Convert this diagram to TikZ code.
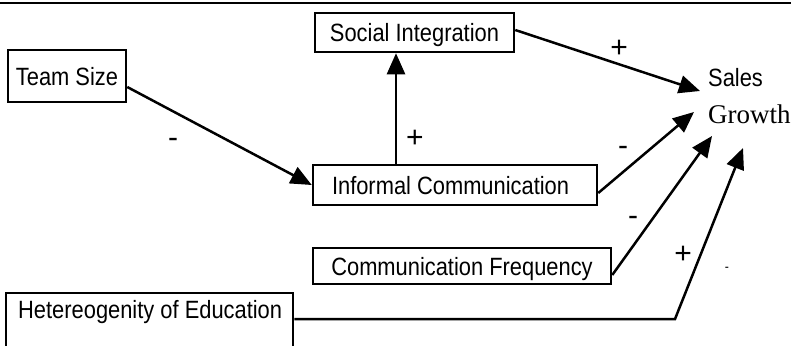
\documentclass[tikz,border=0pt]{standalone}
\usepackage{fontspec}
\usetikzlibrary{arrows.meta}
\newfontfamily\boxfont[FakeStretch=0.875]{Liberation Sans}
\newfontfamily\signfont{Liberation Sans}
\newfontfamily\growthfont{Liberation Serif}
\begin{document}
\begin{tikzpicture}[x=1pt,y=-1pt,
  box/.style={draw, line width=2.5pt, inner sep=0pt, text height=18pt, text depth=0pt,
              font=\boxfont\fontsize{25}{30}\selectfont},
  txt/.style={inner sep=0pt, font=\boxfont\fontsize{25}{30}\selectfont},
  sign/.style={inner sep=0pt, anchor=base, font=\signfont\fontsize{30}{34}\selectfont},
  smallsign/.style={inner sep=0pt, anchor=base, font=\boxfont\fontsize{14}{16}\selectfont},
  arr/.style={line width=2.5pt, -{Triangle[length=21pt,width=18pt]}}]
\useasboundingbox (0,0) rectangle (791,345);
% top rule
\draw[line width=2pt] (0,3) -- (791,3);
% boxes
\node[box, minimum width=118pt, minimum height=52pt] (team) at (67,76) {Team Size};
\node[box, minimum width=199pt, minimum height=39pt] (social) at (414.5,32.5) {Social Integration};
\node[box, minimum height=40pt, inner xsep=19pt] (informal) at (455,185) {\makebox[246pt][l]{Informal Communication}};
\node[box, minimum width=298pt, minimum height=36pt] (comm) at (462,266) {Communication Frequency};
\node[box, minimum width=287pt, minimum height=72pt] (het) at (149.5,329) {};
\node[txt, anchor=base west] (hettxt) at (18,318) {Hetereogenity of Education};
% outcome
\node[txt, anchor=base west] (sales) at (708,86) {Sales};
\node[inner sep=0pt, anchor=base west, font=\growthfont\fontsize{27}{32}\selectfont] (growth) at (708,123) {Growth};
% arrow end points
\coordinate (t1) at (700,91);
\coordinate (t2) at (694,112);
\coordinate (t3) at (712,136);
\coordinate (t4) at (743,148);
\coordinate (hc) at (675,319);
% connectors
\draw[arr] (team.east |- 0,87) -- (informal.west);
\draw[arr] (informal.north -| 396,0) -- (social.south -| 396,0);
\draw[arr] (social.east |- 0,30) -- (t1);
\draw[arr] (informal.east |- 0,193) -- (t2);
\draw[arr] (comm.east |- 0,275) -- (t3);
\draw[arr] (het.east |- 0,319) -- (hc) -- (t4);
% signs
\node[sign] (s1) at (173,147.8) {-};
\node[sign] (s2) at (415,147.5) {+};
\node[sign] (s3) at (619,57.5) {+};
\node[sign] (s4) at (623,155.8) {-};
\node[sign] (s5) at (633,225.8) {-};
\node[sign] (s6) at (683,263.5) {+};
\node[smallsign] (s7) at (727,271.5) {-};
\end{tikzpicture}
\end{document}
